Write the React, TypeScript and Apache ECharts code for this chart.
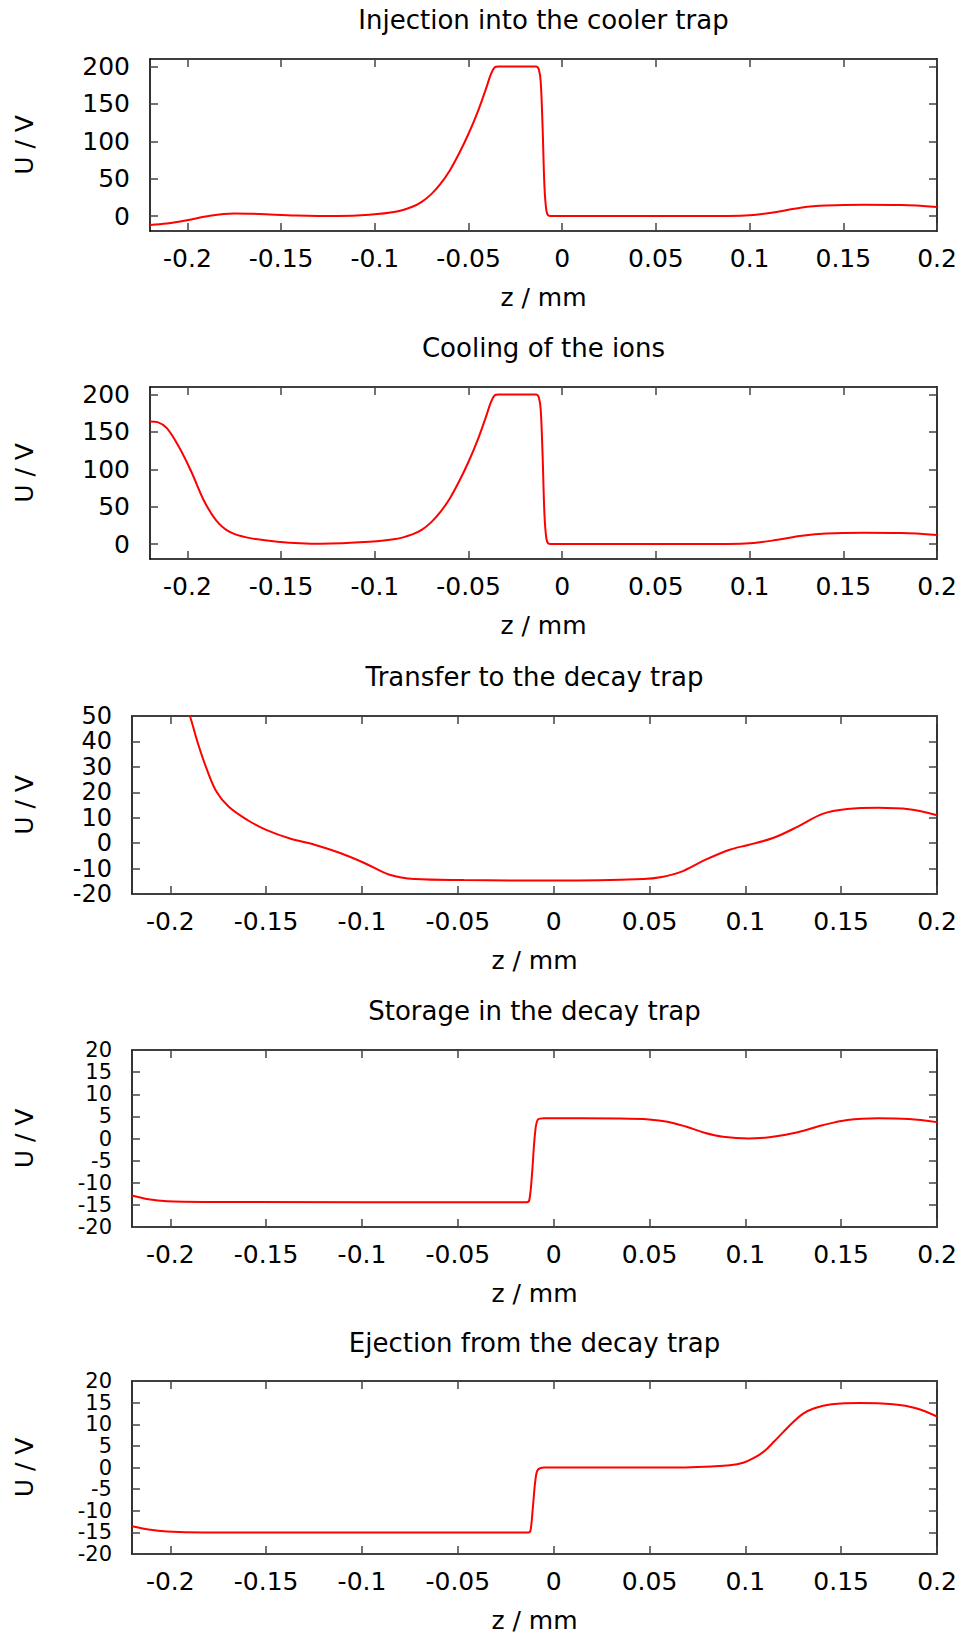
import React, { useEffect, useRef } from "react";
import * as echarts from "echarts";

// ---- tick values ----
const xTicks = [-0.2, -0.15, -0.1, -0.05, 0, 0.05, 0.1, 0.15, 0.2];
const yTicksHigh = [0, 50, 100, 150, 200];
const yTicksTransfer = [-20, -10, 0, 10, 20, 30, 40, 50];
const yTicksLow = [-20, -15, -10, -5, 0, 5, 10, 15, 20];

// ---- titles ----
const panelTitles = [
  "Injection into the cooler trap",
  "Cooling of the ions",
  "Transfer to the decay trap",
  "Storage in the decay trap",
  "Ejection from the decay trap",
];

// ---- data (z in mm, U in V) ----
const injZ = [-0.22, -0.211, -0.201, -0.188, -0.175, -0.162, -0.142, -0.12, -0.103, -0.089, -0.08, -0.075, -0.07, -0.065, -0.06, -0.055, -0.05, -0.045, -0.041, -0.038, -0.036, -0.034, -0.014, -0.0125, -0.0115, -0.0105, -0.0095, -0.0085, -0.0075, -0.006, 0.03, 0.088, 0.102, 0.115, 0.128, 0.141, 0.161, 0.181, 0.2];
const injU = [-12, -10, -6, 0.5, 3.5, 2.7, 0.8, 0, 1.7, 5.7, 12.5, 19, 29, 43, 61, 84, 110, 140, 168, 190, 199, 200, 200, 196, 180, 120, 40, 8, 1, 0, 0, 0, 1.3, 5.7, 11.5, 14, 15, 14.7, 12];

const coolZ = [-0.22, -0.216, -0.211, -0.2046, -0.198, -0.1914, -0.1848, -0.178, -0.168, -0.152, -0.129, -0.103, -0.089, -0.08, -0.075, -0.07, -0.065, -0.06, -0.055, -0.05, -0.045, -0.041, -0.038, -0.036, -0.034, -0.014, -0.0125, -0.0115, -0.0105, -0.0095, -0.0085, -0.0075, -0.006, 0.03, 0.088, 0.102, 0.115, 0.128, 0.141, 0.161, 0.181, 0.2];
const coolU = [164, 163, 155, 130, 97, 59, 32, 17, 8.6, 3.2, 0.5, 3, 6.7, 13, 19, 29, 43, 61, 84, 110, 140, 168, 190, 199, 200, 200, 196, 180, 120, 40, 8, 1, 0, 0, 0, 1.3, 5.7, 11, 14, 15, 14.7, 12];

const transZ = [-0.22, -0.21, -0.2, -0.1898, -0.1856, -0.1808, -0.1759, -0.1695, -0.1598, -0.15, -0.1372, -0.1243, -0.1114, -0.0985, -0.0856, -0.0727, -0.0469, 0.0015, 0.0467, 0.0564, 0.066, 0.079, 0.0918, 0.1015, 0.1144, 0.1274, 0.1403, 0.1532, 0.1693, 0.1854, 0.2];
const transU = [140, 100, 72, 50, 39.2, 28.7, 20.2, 14.3, 9.1, 5.2, 1.7, -0.7, -3.9, -7.9, -12.4, -14.1, -14.5, -14.7, -14.1, -13.3, -11.4, -6.6, -2.6, -0.7, 2, 6.5, 11.5, 13.4, 13.9, 13.3, 11];

const storZ = [-0.22, -0.2114, -0.2017, -0.1824, -0.014, -0.0127, -0.0114, -0.0097, -0.0082, -0.005, 0.0337, 0.0497, 0.0594, 0.069, 0.0787, 0.0883, 0.1016, 0.1144, 0.1274, 0.1403, 0.1532, 0.1693, 0.1854, 0.2];
const storU = [-12.9, -13.75, -14.2, -14.35, -14.4, -13.9, -8.6, 1.2, 4.3, 4.6, 4.5, 4.3, 3.8, 2.7, 1.3, 0.4, 0, 0.4, 1.4, 3, 4.2, 4.6, 4.4, 3.7];

const ejectZ = [-0.22, -0.2114, -0.2017, -0.1824, -0.013, -0.012, -0.0108, -0.0095, -0.0082, -0.005, 0.066, 0.0823, 0.0919, 0.0989, 0.1045, 0.11, 0.115, 0.12, 0.125, 0.13, 0.136, 0.145, 0.16, 0.177, 0.189, 0.2];
const ejectU = [-13.6, -14.35, -14.8, -15, -15, -14.35, -9, -2.8, -0.5, 0, 0, 0.24, 0.5, 1.1, 2.2, 3.8, 6.0, 8.3, 10.5, 12.4, 13.7, 14.6, 14.9, 14.6, 13.7, 11.8];

const xRange = [-0.22, 0.2];

const FONT = "DejaVu Sans";

export default function App() {
  const ref = useRef<HTMLDivElement>(null);

  useEffect(() => {
    if (!ref.current) return;
    const chart = echarts.init(ref.current, undefined, { renderer: "svg" });

    const panels = [
      { z: injZ, u: injU, yMin: -20, yMax: 210, yTicks: yTicksHigh, left: 150, top: 59, height: 172, titleTop: 5, yFont: 25 },
      { z: coolZ, u: coolU, yMin: -20, yMax: 210, yTicks: yTicksHigh, left: 150, top: 387, height: 172, titleTop: 333, yFont: 25 },
      { z: transZ, u: transU, yMin: -20, yMax: 50, yTicks: yTicksTransfer, left: 132, top: 716, height: 178, titleTop: 662, yFont: 24 },
      { z: storZ, u: storU, yMin: -20, yMax: 20, yTicks: yTicksLow, left: 132, top: 1050, height: 177, titleTop: 996, yFont: 21 },
      { z: ejectZ, u: ejectU, yMin: -20, yMax: 20, yTicks: yTicksLow, left: 132, top: 1381, height: 174, titleTop: 1328, yFont: 21 },
    ];
    const RIGHT = 937;

    const fmt = (v: number) => String(parseFloat(Number(v).toFixed(4)));

    const tickStyle = { color: "#444", width: 1.5 };
    const lineStyle = { color: "#000", width: 1.6 };

    const grid: any[] = [];
    const xAxis: any[] = [];
    const yAxis: any[] = [];
    const series: any[] = [];
    const title: any[] = [];

    panels.forEach((p, i) => {
      grid.push({ left: p.left, top: p.top, width: RIGHT - p.left, height: p.height, containLabel: false });
      title.push({
        text: panelTitles[i],
        left: (p.left + RIGHT) / 2,
        top: p.titleTop,
        textAlign: "center",
        padding: 0,
        textStyle: { fontFamily: FONT, fontSize: 26, fontWeight: "normal", color: "#000", lineHeight: 30 },
      });
      xAxis.push({
        type: "value",
        gridIndex: i,
        position: "bottom",
        min: xRange[0],
        max: xRange[1],
        name: "z / mm",
        nameLocation: "middle",
        nameGap: 54,
        nameTextStyle: { fontFamily: FONT, fontSize: 25, color: "#000", lineHeight: 25 },
        axisLine: { show: true, onZero: false, lineStyle },
        axisTick: { show: true, inside: true, length: 8, customValues: xTicks, lineStyle: tickStyle },
        axisLabel: { show: true, interval: 0, margin: 15, customValues: xTicks, formatter: fmt, fontFamily: FONT, fontSize: 25, color: "#000", lineHeight: 25, showMinLabel: true, showMaxLabel: true, hideOverlap: false },
        splitLine: { show: false },
      });
      xAxis.push({
        type: "value",
        gridIndex: i,
        position: "top",
        min: xRange[0],
        max: xRange[1],
        axisLine: { show: true, onZero: false, lineStyle },
        axisTick: { show: true, inside: true, length: 8, customValues: xTicks, lineStyle: tickStyle },
        axisLabel: { show: false },
        splitLine: { show: false },
      });
      yAxis.push({
        type: "value",
        gridIndex: i,
        position: "left",
        min: p.yMin,
        max: p.yMax,
        name: "U / V",
        nameLocation: "middle",
        nameGap: p.left - 37,
        nameTextStyle: { fontFamily: FONT, fontSize: 25, color: "#000", lineHeight: 25 },
        axisLine: { show: true, onZero: false, lineStyle },
        axisTick: { show: true, inside: true, length: 8, customValues: p.yTicks, lineStyle: tickStyle },
        axisLabel: { show: true, interval: 0, margin: 20, customValues: p.yTicks, formatter: fmt, fontFamily: FONT, fontSize: p.yFont, color: "#000", lineHeight: 18, showMinLabel: true, showMaxLabel: true, hideOverlap: false },
        splitLine: { show: false },
      });
      yAxis.push({
        type: "value",
        gridIndex: i,
        position: "right",
        min: p.yMin,
        max: p.yMax,
        axisLine: { show: true, onZero: false, lineStyle },
        axisTick: { show: true, inside: true, length: 8, customValues: p.yTicks, lineStyle: tickStyle },
        axisLabel: { show: false },
        splitLine: { show: false },
      });
      series.push({
        type: "line",
        name: panelTitles[i],
        xAxisIndex: i * 2,
        yAxisIndex: i * 2,
        data: p.z.map((z, k) => [z, p.u[k]]),
        showSymbol: false,
        smooth: 0.35,
        clip: true,
        lineStyle: { color: "#ff0000", width: 2 },
      });
    });

    chart.setOption({
      animation: false,
      backgroundColor: "#fff",
      title,
      grid,
      xAxis,
      yAxis,
      series,
    });

    return () => chart.dispose();
  }, []);

  return (
    <div
      ref={ref}
      style={{ position: "absolute", left: 0, top: 0, width: 967, height: 1634 }}
    />
  );
}
